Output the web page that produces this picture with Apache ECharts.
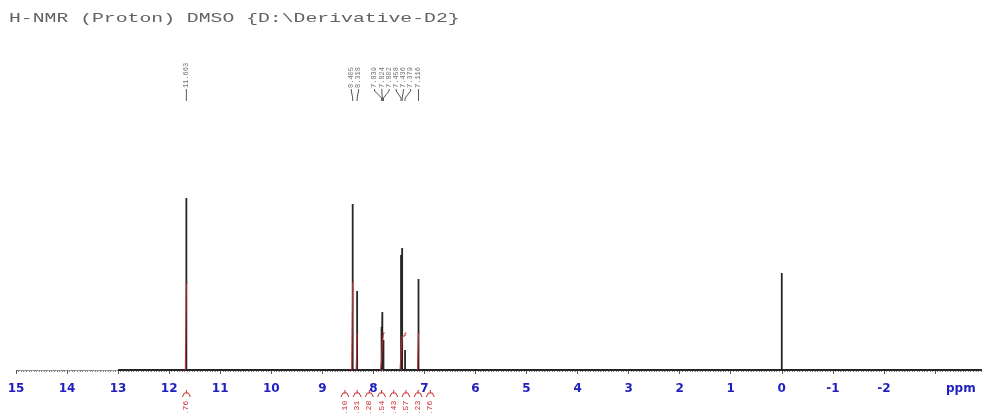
<!DOCTYPE html>
<html>
<head>
<meta charset="utf-8">
<script src="https://cdn.jsdelivr.net/npm/echarts@6/dist/echarts.min.js"></script>
<style>
  html, body { margin: 0; padding: 0; background: #fff; }
  #chart { width: 982px; height: 413px; }
</style>
</head>
<body>
<div id="chart"></div>
<script>
// ---- spectrum data (chemical shift in ppm, relative intensity) ----
const peakPpm    = [11.663, 8.405, 8.318, 7.839, 7.824, 7.802, 7.458, 7.436, 7.379, 7.116, 0.000];
const peakHeight = [172,    166,   79,    43,    58,    30,    115,   122,   20,    91,    97];
const labelledPeaks = 10;           // the first ten peaks carry a shift label (TMS does not)
const baselineStart = 13.0;
const baselineEnd   = -4.0;

// integral traces: peak positions inside each region and the running level after each step
const integralRegions = [[11.663], [8.405], [8.318], [7.839, 7.824, 7.802], [7.458, 7.436, 7.379], [7.116]];
const integralLevels  = [[87],     [88],    [37],    [12, 28, 37],          [18, 34, 37],          [37]];

// integral values printed under the axis, with the shift each one belongs to
const integralLabelPpm  = [11.663, 8.405, 8.318, 7.839, 7.813, 7.458, 7.436, 7.379, 7.116];
const integralLabelText = ['0.76', '1.10', '1.31', '1.28', '2.54', '1.43', '1.57', '1.23', '0.76'];

// axis ticks
const axisMin = -4, axisMax = 15, axisStep = 1;
const titleText = 'H-NMR (Proton) DMSO {D:\\Derivative-D2}';

// ---- build series ----
const spectrum = [[baselineStart, 0]];
peakPpm.forEach((p, i) => {
  spectrum.push([p, 0], [p, peakHeight[i]], [p, 0]);
});
spectrum.push([baselineEnd, 0]);

const integralSeries = integralRegions.map((region, r) => {
  const pts = [[region[0] + 0.02, 0]];
  let prev = 0;
  region.forEach((p, k) => {
    pts.push([p, prev], [p, integralLevels[r][k]]);
    prev = integralLevels[r][k];
  });
  pts.push([region[region.length - 1] - 0.025, prev]);
  return {
    type: 'line', data: pts, showSymbol: false, silent: true, z: 5,
    lineStyle: { color: '#cc2a2a', width: 1 }
  };
});

const chart = echarts.init(document.getElementById('chart'), null, { renderer: 'canvas' });

chart.setOption({
  animation: false,
  backgroundColor: '#ffffff',
  grid: { left: 16, right: -4, top: 170, bottom: 34, containLabel: false, outerBoundsMode: 'none' },
  xAxis: {
    type: 'value', inverse: true, min: axisMin, max: axisMax, interval: axisStep,
    axisLine: { show: true, lineStyle: { color: '#7a7a7a', width: 1, type: 'dotted' } },
    axisTick: { show: true, length: 4, lineStyle: { color: '#555' } },
    minorTick: { show: true, splitNumber: 20, length: 2, lineStyle: { color: '#888' } },
    splitLine: { show: false },
    axisLabel: {
      margin: 4,
      color: '#2020c0',
      fontFamily: 'DejaVu Sans', fontWeight: 'bold', fontSize: 12,
      formatter: v => (v <= -3 ? '' : String(v))
    }
  },
  yAxis: { type: 'value', min: -9, max: 200, show: false },
  series: [
    {
      type: 'line', data: spectrum, showSymbol: false, silent: true, z: 3,
      lineStyle: { color: '#262626', width: 1.8 }
    },
    ...integralSeries
  ]
});

// ---- annotations placed through the axis scale ----
const px = ppm => chart.convertToPixel({ gridIndex: 0 }, [ppm, 0])[0];

// push overlapping label slots apart so every label stays readable
function spread(xs, gap) {
  const p = xs.slice();
  for (let it = 0; it < 300; it++) {
    for (let i = 1; i < p.length; i++) {
      const d = p[i] - p[i - 1];
      if (d < gap) { const m = (gap - d) / 2; p[i - 1] -= m; p[i] += m; }
    }
  }
  return p;
}

const graphics = [];

// title
graphics.push({
  type: 'text', x: 9, y: 19, scaleX: 1.52, originX: 0, originY: 0,
  style: { text: titleText, fill: '#626262', font: '13px "Liberation Mono"', textAlign: 'left', textVerticalAlign: 'middle' }
});

// unit label at the right end of the axis
graphics.push({
  type: 'text', x: 946, y: 389,
  style: { text: 'ppm', fill: '#2020c0', font: 'bold 12px "DejaVu Sans"', textAlign: 'left', textVerticalAlign: 'middle' }
});

// peak shift labels with leader lines
const peakX = peakPpm.slice(0, labelledPeaks).map(px);
const labelX = spread(peakX, 7.2);
peakX.forEach((xp, i) => {
  const xl = labelX[i];
  graphics.push({
    type: 'text', x: xl, y: 88, rotation: Math.PI / 2,
    style: { text: peakPpm[i].toFixed(3), fill: '#707070', font: '7px "Liberation Mono"', textAlign: 'left', textVerticalAlign: 'middle' }
  });
  graphics.push({
    type: 'polyline',
    shape: { points: [[xl, 89], [xl, 91], [xp, 98], [xp, 101]] },
    style: { stroke: '#555', lineWidth: 1, fill: null }
  });
});

// integral values under the axis
const intX = integralLabelPpm.map(px);
const intSlotX = [intX[0]].concat(spread(intX.slice(1), 12.2));
intSlotX.forEach((x, i) => {
  graphics.push({
    type: 'polyline',
    shape: { points: [[x - 4, 397], [x - 2, 393], [x + 2, 393], [x + 4, 397]] },
    style: { stroke: '#cc2a2a', lineWidth: 1, fill: null }
  });
  graphics.push({
    type: 'line', shape: { x1: x, y1: 393, x2: x, y2: 390 },
    style: { stroke: '#cc2a2a', lineWidth: 1 }
  });
  graphics.push({
    type: 'text', x: x, y: 420, rotation: Math.PI / 2,
    style: { text: integralLabelText[i], fill: '#cc2a2a', font: '8px "Liberation Mono"', textAlign: 'left', textVerticalAlign: 'middle' }
  });
});

chart.setOption({ graphic: graphics });
</script>
</body>
</html>
